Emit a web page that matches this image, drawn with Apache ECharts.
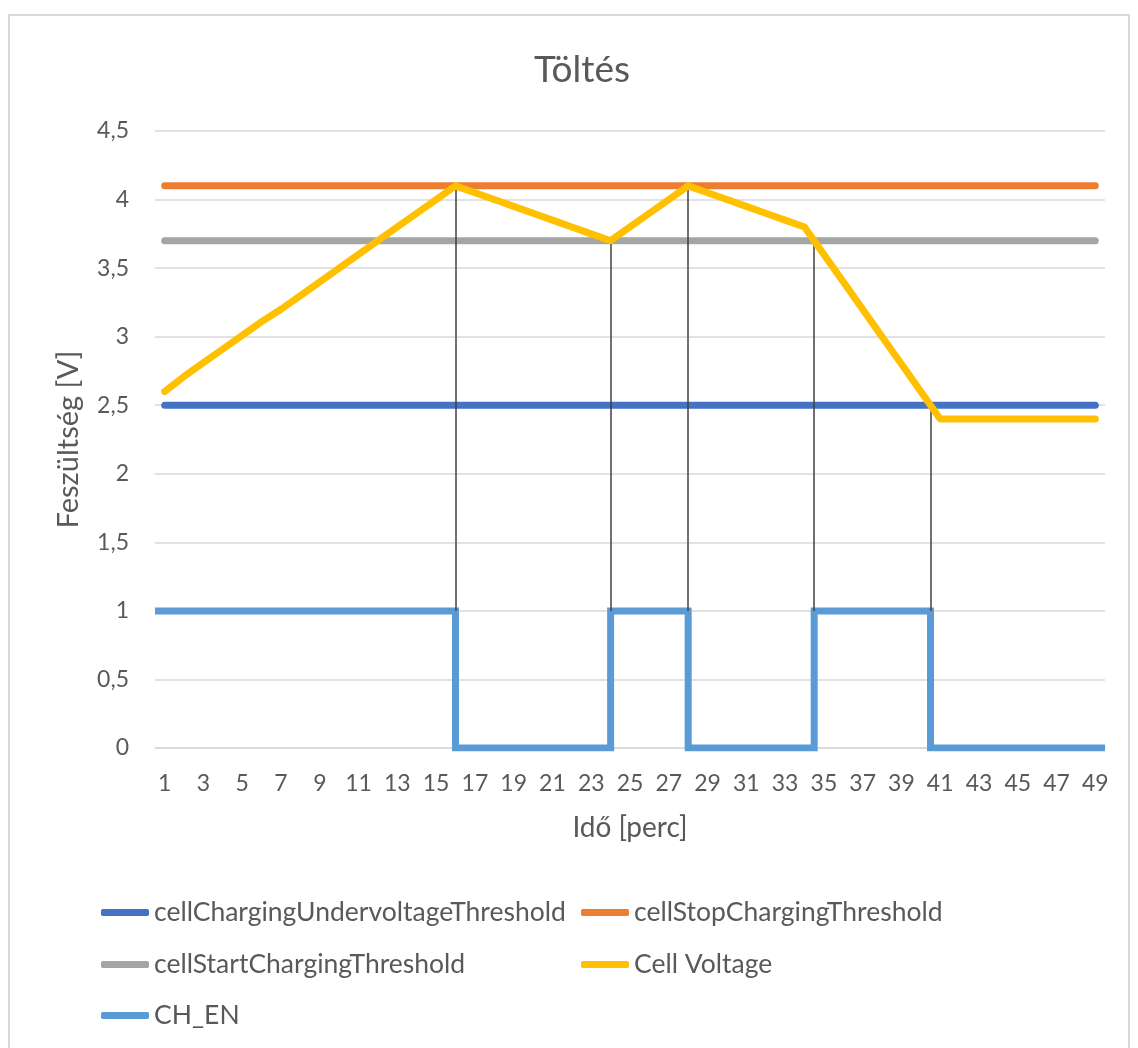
<!DOCTYPE html>
<html>
<head>
<meta charset="utf-8">
<title>Töltés</title>
<script src="https://cdn.jsdelivr.net/npm/echarts@6/dist/echarts.min.js"></script>
<style>
  html, body { margin: 0; padding: 0; background: #ffffff; }
  #chart { width: 1138px; height: 1048px; }
</style>
</head>
<body>
<div id="chart"></div>
<script>
// Minutes on the time axis
const minutes = Array.from({ length: 49 }, (_, i) => String(i + 1));

// Threshold levels [V]
const undervoltageThreshold = 2.5;
const stopChargingThreshold = 4.1;
const startChargingThreshold = 3.7;

// Measured cell voltage per minute [V]
const cellVoltage = [
  2.6, 2.71, 2.81, 2.91, 3.01, 3.11, 3.2, 3.3, 3.4, 3.5,
  3.6, 3.7, 3.8, 3.9, 4.0, 4.1, 4.05, 4.0, 3.95, 3.9,
  3.85, 3.8, 3.75, 3.7, 3.8, 3.9, 4.0, 4.1, 4.05, 4.0,
  3.95, 3.9, 3.85, 3.8, 3.6, 3.4, 3.2, 3.0, 2.8, 2.6,
  2.4, 2.4, 2.4, 2.4, 2.4, 2.4, 2.4, 2.4, 2.4
];

// Charge enable signal: switching instants [min] and levels
const chEnTimes  = [0.5, 16, 16, 24, 24, 28, 28, 34.5, 34.5, 40.5, 40.5, 49.5];
const chEnValues = [1,   1,  0,  0,  1,  1,  0,  0,    1,    1,    0,    0];

// Marker lines from the voltage event down to the enable level
const eventTimes  = [16, 24, 28, 34.5, 40.5];
const eventLevels = [4.1, 3.7, 4.1, 3.7, 2.5];
const eventBase = 1;

const seriesNames = [
  'cellChargingUndervoltageThreshold',
  'cellStopChargingThreshold',
  'cellStartChargingThreshold',
  'Cell Voltage',
  'CH_EN'
];
const colors = ['#4472C4', '#ED7D31', '#A5A5A5', '#FFC000', '#5B9BD5'];

const FONT = 'Lato, "Open Sans", sans-serif';
const TEXT = '#595959';
const GRID = '#D9D9D9';

const flat = v => minutes.map(() => v);
const lineStyleFor = c => ({ color: c, width: 7, cap: 'round', join: 'round' });

const chart = echarts.init(document.getElementById('chart'), null, { renderer: 'canvas' });

const legendPos = [
  { left: 96, top: 894 },
  { left: 576, top: 894 },
  { left: 96, top: 946 },
  { left: 576, top: 946 },
  { left: 96, top: 997 }
];

chart.setOption({
  backgroundColor: '#ffffff',
  animation: false,
  color: colors,
  graphic: [{
    type: 'rect',
    shape: { x: 9, y: 15, width: 1120, height: 1060 },
    style: { fill: 'none', stroke: '#D9D9D9', lineWidth: 2 },
    z: -10
  }],
  title: {
    text: 'Töltés',
    left: 577,
    textAlign: 'center',
    top: 47,
    textStyle: { fontFamily: FONT, fontSize: 37, fontWeight: 'normal', color: TEXT }
  },
  legend: legendPos.map((p, i) => ({
    data: [seriesNames[i]],
    left: p.left,
    top: p.top,
    icon: 'roundRect',
    itemWidth: 48,
    itemHeight: 7,
    textStyle: { fontFamily: FONT, fontSize: 26.5, color: TEXT }
  })),
  grid: { left: 155, right: 33, top: 131, bottom: 300, containLabel: false },
  xAxis: [
    {
      type: 'category',
      data: minutes,
      boundaryGap: true,
      name: 'Idő [perc]',
      nameLocation: 'middle',
      nameGap: 66,
      nameTextStyle: { fontFamily: FONT, fontSize: 28, color: TEXT },
      axisLine: { show: true, lineStyle: { color: GRID, width: 1.5 } },
      axisTick: { show: false },
      axisLabel: { interval: 1, margin: 24, fontFamily: FONT, fontSize: 23, color: TEXT },
      splitLine: { show: false }
    },
    {
      type: 'value',
      min: 0.5,
      max: 49.5,
      show: false,
      splitLine: { show: false }
    }
  ],
  yAxis: {
    type: 'value',
    min: 0,
    max: 4.5,
    interval: 0.5,
    name: 'Feszültség [V]',
    nameLocation: 'middle',
    nameGap: 72,
    nameTextStyle: { fontFamily: FONT, fontSize: 29, color: TEXT },
    axisLine: { show: false },
    axisTick: { show: false },
    axisLabel: {
      margin: 26,
      fontFamily: FONT,
      fontSize: 23,
      color: TEXT,
      formatter: v => String(v).replace('.', ',')
    },
    splitLine: { lineStyle: { color: GRID, width: 1.5 } }
  },
  series: [
    {
      name: seriesNames[0], type: 'line', data: flat(undervoltageThreshold),
      symbol: 'none', lineStyle: lineStyleFor(colors[0]), z: 3
    },
    {
      name: seriesNames[1], type: 'line', data: flat(stopChargingThreshold),
      symbol: 'none', lineStyle: lineStyleFor(colors[1]), z: 3
    },
    {
      name: seriesNames[2], type: 'line', data: flat(startChargingThreshold),
      symbol: 'none', lineStyle: lineStyleFor(colors[2]), z: 3
    },
    {
      name: seriesNames[3], type: 'line', data: cellVoltage,
      symbol: 'none', lineStyle: lineStyleFor(colors[3]), z: 5
    },
    {
      name: seriesNames[4], type: 'line', xAxisIndex: 1,
      data: chEnTimes.map((t, i) => [t, chEnValues[i]]),
      symbol: 'none',
      lineStyle: { color: colors[4], width: 7, cap: 'butt', join: 'miter' },
      z: 4,
      markLine: {
        silent: true,
        symbol: ['none', 'none'],
        label: { show: false },
        lineStyle: { color: '#404040', width: 1.5, type: 'solid' },
        data: eventTimes.map((t, i) => [
          { coord: [t, eventLevels[i]] },
          { coord: [t, eventBase] }
        ])
      }
    }
  ]
});
</script>
</body>
</html>
